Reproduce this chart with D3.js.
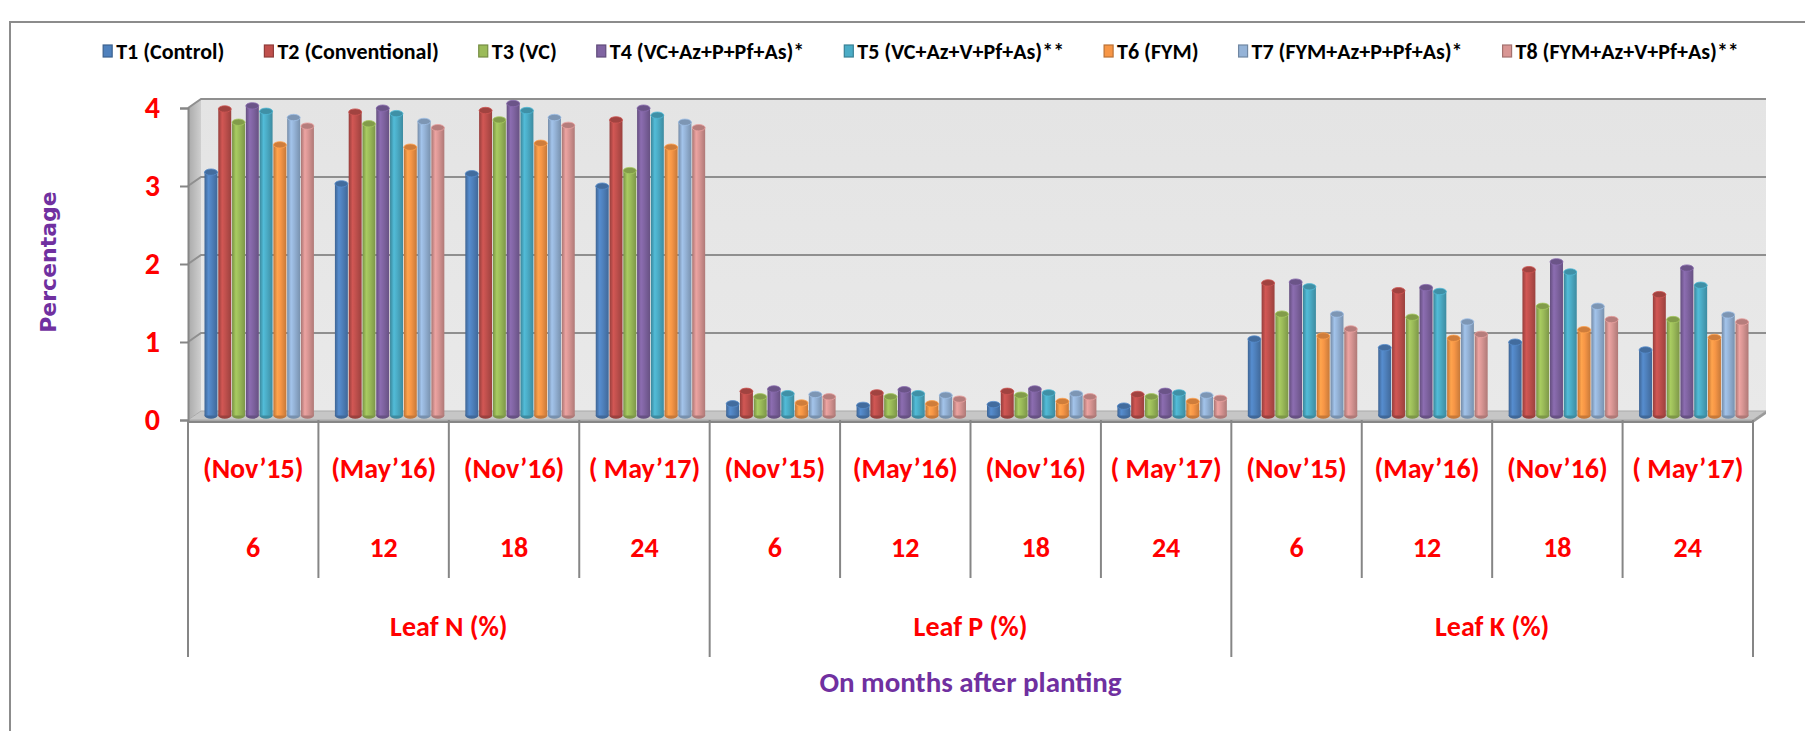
<!DOCTYPE html>
<html>
<head>
<meta charset="utf-8">
<script src="https://cdn.jsdelivr.net/npm/d3@7"></script>
<style>
  body { margin: 0; background: #fff; }
  svg { display: block; font-family: Carlito, Lato, "Open Sans", sans-serif; font-weight: bold; }
</style>
</head>
<body>
<svg id="chart" width="1805" height="731"></svg>
<script>
// categories: three nutrient groups, each sampled four times
const groups = ["Leaf N (%)", "Leaf P (%)", "Leaf K (%)"];
const dates = ["(Nov’15)", "(May’16)", "(Nov’16)", "( May’17)"];
const months = ["6", "12", "18", "24"];
const yTicks = [0, 1, 2, 3, 4];

const seriesNames = [
  "T1 (Control)", "T2 (Conventional)", "T3 (VC)", "T4 (VC+Az+P+Pf+As)*",
  "T5 (VC+Az+V+Pf+As)**", "T6 (FYM)", "T7 (FYM+Az+P+Pf+As)*", "T8 (FYM+Az+V+Pf+As)**"
];
const seriesColors = ["#4f81bd", "#c0504d", "#9bbb59", "#8064a2", "#4bacc6", "#f79646", "#95b3d7", "#d99694"];

// values per treatment: N x4, P x4, K x4
const t1 = [3.12, 2.97, 3.10, 2.94, 0.15, 0.13, 0.14, 0.12, 0.98, 0.87, 0.94, 0.84];
const t2 = [3.93, 3.89, 3.91, 3.79, 0.31, 0.29, 0.31, 0.27, 1.70, 1.60, 1.87, 1.55];
const t3 = [3.76, 3.74, 3.79, 3.14, 0.24, 0.24, 0.26, 0.24, 1.30, 1.26, 1.40, 1.23];
const t4 = [3.97, 3.94, 4.00, 3.94, 0.34, 0.33, 0.34, 0.31, 1.71, 1.64, 1.97, 1.89];
const t5 = [3.90, 3.87, 3.91, 3.85, 0.28, 0.28, 0.29, 0.29, 1.65, 1.59, 1.84, 1.67];
const t6 = [3.47, 3.44, 3.49, 3.44, 0.16, 0.15, 0.18, 0.18, 1.02, 0.99, 1.10, 1.00];
const t7 = [3.82, 3.77, 3.82, 3.76, 0.27, 0.26, 0.28, 0.26, 1.30, 1.20, 1.40, 1.29];
const t8 = [3.71, 3.69, 3.72, 3.69, 0.24, 0.21, 0.24, 0.22, 1.11, 1.04, 1.23, 1.20];
const seriesValues = [t1, t2, t3, t4, t5, t6, t7, t8];

const svg = d3.select("#chart");
const red = "#ff0000", purple = "#7030a0", axisGrey = "#868686";

// 3D depth offset of the back wall
const DX = 13, DY = -9;
const x0 = 188, x1 = 1753, yBase = 420, yTop = 108;

const categories = d3.range(groups.length * dates.length);
const x = d3.scaleBand().domain(categories).range([x0, x1]).padding(0);
const xs = d3.scaleBand().domain(d3.range(seriesNames.length))
  .range([10, x.bandwidth() - 11]).paddingInner(0.06);
const y = d3.scaleLinear().domain([0, 4]).range([yBase, yTop]);

// outer chart border
svg.append("rect").attr("x", 10).attr("y", 22).attr("width", 1820).attr("height", 760)
  .attr("fill", "none").attr("stroke", "#8c8c8c").attr("stroke-width", 2);

// gradients for the cylinders
const defs = svg.append("defs");
seriesColors.forEach((c, i) => {
  const g = defs.append("linearGradient").attr("id", "cyl" + i);
  const base = d3.color(c);
  [[0, base.darker(0.7)], [0.3, base.brighter(0.25)], [0.55, base], [1, base.darker(0.6)]]
    .forEach(([o, col]) => g.append("stop").attr("offset", o).attr("stop-color", col));
});
const wallGrad = defs.append("linearGradient").attr("id", "wall").attr("x1", 0).attr("y1", 0).attr("x2", 0).attr("y2", 1);
wallGrad.append("stop").attr("offset", 0).attr("stop-color", "#e4e4e4");
wallGrad.append("stop").attr("offset", 1).attr("stop-color", "#e9e9e9");
const sideGrad = defs.append("linearGradient").attr("id", "side");
sideGrad.append("stop").attr("offset", 0).attr("stop-color", "#a9a9a9");
sideGrad.append("stop").attr("offset", 1).attr("stop-color", "#cfcfcf");

// back wall
svg.append("rect").attr("x", x0 + DX).attr("y", y(4) + DY)
  .attr("width", x1 - x0).attr("height", y(0) - y(4))
  .attr("fill", "url(#wall)");

// left side wall
svg.append("polygon")
  .attr("points", [[x0, y(0)], [x0 + DX, y(0) + DY], [x0 + DX, y(4) + DY], [x0, y(4)]].join(" "))
  .attr("fill", "url(#side)");

// gridlines on back and side walls
const grid = svg.append("g").attr("stroke", "#8f8f8f").attr("stroke-width", 2).attr("fill", "none");
grid.selectAll("path").data(yTicks.filter(d => d > 0)).join("path")
  .attr("d", d => `M${x0},${y(d)}L${x0 + DX},${y(d) + DY}L${x1 + DX},${y(d) + DY}`);

// floor
svg.append("polygon")
  .attr("points", [[x0, y(0)], [x1, y(0)], [x1 + DX, y(0) + DY], [x0 + DX, y(0) + DY]].join(" "))
  .attr("fill", "#c6c6c6").attr("stroke", "#a9a9a9").attr("stroke-width", 1);
svg.append("rect").attr("x", x0).attr("y", y(0)).attr("width", x1 - x0).attr("height", 3)
  .attr("fill", "#a8a8a8");
svg.append("polygon")
  .attr("points", [[x1, y(0)], [x1 + DX, y(0) + DY], [x1 + DX, y(0) + DY + 3], [x1, y(0) + 3]].join(" "))
  .attr("fill", "#9a9a9a");

// cylinders
const bars = [];
categories.forEach(ci => {
  seriesValues.forEach((vals, si) => bars.push({ ci, si, v: vals[ci] }));
});
const bx = d => x(d.ci) + xs(d.si) + DX / 2;
const bw = xs.bandwidth();
const by = v => y(v) + DY / 2;
const ry = 3.2;

const cyl = svg.append("g").selectAll("g").data(bars).join("g");
cyl.append("ellipse")
  .attr("cx", d => bx(d) + bw / 2).attr("cy", by(0))
  .attr("rx", bw / 2).attr("ry", ry)
  .attr("fill", d => d3.color(seriesColors[d.si]).darker(0.6));
cyl.append("rect")
  .attr("x", bx).attr("y", d => by(d.v)).attr("width", bw)
  .attr("height", d => by(0) - by(d.v))
  .attr("fill", d => `url(#cyl${d.si})`);
cyl.append("ellipse")
  .attr("cx", d => bx(d) + bw / 2).attr("cy", d => by(d.v))
  .attr("rx", bw / 2).attr("ry", ry)
  .attr("fill", d => d3.color(seriesColors[d.si]).darker(0.5))
  .attr("stroke", d => d3.color(seriesColors[d.si]).brighter(0.2))
  .attr("stroke-width", 0.8);

// y axis
const yAxis = svg.append("g").attr("transform", `translate(${x0},0)`)
  .call(d3.axisLeft(y).tickValues(yTicks).tickFormat(d3.format("d")).tickSize(8).tickPadding(20));
yAxis.select(".domain").attr("stroke", axisGrey).attr("stroke-width", 2);
yAxis.selectAll(".tick line").attr("stroke", axisGrey).attr("stroke-width", 2);
yAxis.selectAll(".tick text").attr("fill", red).attr("font-size", 30)
  .attr("font-family", "Carlito, Lato, sans-serif").attr("font-weight", "bold");

// x axis line and multi-level dividers
svg.append("line").attr("x1", x0).attr("x2", x1).attr("y1", yBase + 2).attr("y2", yBase + 2)
  .attr("stroke", axisGrey).attr("stroke-width", 2);
const edges = d3.range(categories.length + 1);
svg.append("g").selectAll("line").data(edges).join("line")
  .attr("x1", i => x0 + i * x.step()).attr("x2", i => x0 + i * x.step())
  .attr("y1", yBase).attr("y2", i => i % dates.length === 0 ? 657 : 578)
  .attr("stroke", axisGrey).attr("stroke-width", 2);

const labels = svg.append("g").attr("fill", red).attr("text-anchor", "middle")
  .attr("dominant-baseline", "central").attr("font-size", 28);
labels.selectAll(".date").data(categories).join("text").attr("class", "date")
  .attr("x", ci => x(ci) + x.bandwidth() / 2).attr("y", 468)
  .text(ci => dates[ci % dates.length]);
labels.selectAll(".month").data(categories).join("text").attr("class", "month")
  .attr("x", ci => x(ci) + x.bandwidth() / 2).attr("y", 547)
  .text(ci => months[ci % months.length]);
labels.selectAll(".grp").data(groups).join("text").attr("class", "grp")
  .attr("x", (g, gi) => x(gi * dates.length) + x.step() * dates.length / 2).attr("y", 626)
  .text(g => g);

// axis titles
svg.append("text").attr("x", (x0 + x1) / 2).attr("y", 682)
  .attr("text-anchor", "middle").attr("dominant-baseline", "central")
  .attr("fill", purple).attr("font-size", 29).text("On months after planting");
svg.append("text").attr("transform", "translate(48,262) rotate(-90)")
  .attr("text-anchor", "middle").attr("dominant-baseline", "central")
  .attr("fill", purple).attr("font-size", 22)
  .attr("font-family", "'DejaVu Sans', sans-serif").text("Percentage");

// legend, laid out left to right and centred
const legend = svg.append("g").attr("font-size", 22);
const items = legend.selectAll("g").data(seriesNames).join("g");
items.append("rect").attr("width", 9).attr("height", 12).attr("y", -6)
  .attr("fill", (d, i) => seriesColors[i])
  .attr("stroke", (d, i) => d3.color(seriesColors[i]).darker(0.8)).attr("stroke-width", 1.2);
items.append("text").attr("x", 13).attr("dominant-baseline", "central").attr("fill", "#000").text(d => d);
let cursor = 0;
const gap = 40;
items.each(function () {
  const w = this.getBBox().width;
  d3.select(this).attr("data-x", cursor);
  cursor += w + gap;
});
const total = cursor - gap;
const start = 921 - total / 2;
items.attr("transform", function () {
  return `translate(${start + +this.getAttribute("data-x")},51)`;
});
</script>
</body>
</html>
